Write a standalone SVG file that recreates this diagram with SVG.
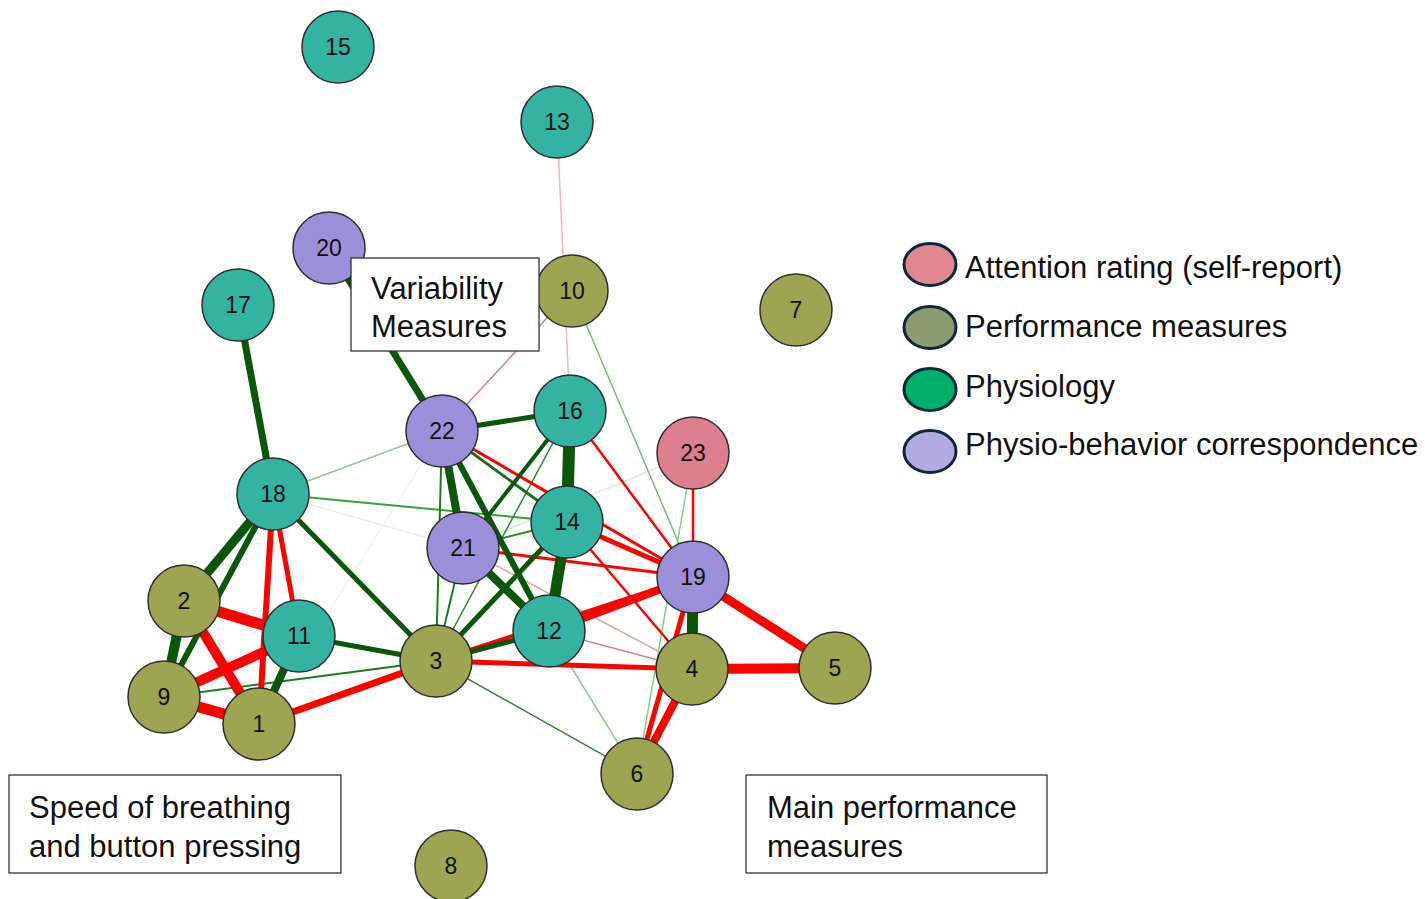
<svg xmlns="http://www.w3.org/2000/svg" width="1425" height="899" viewBox="0 0 1425 899">
<style>
.n circle{stroke:#2e2e2e;stroke-width:1.5}
.n text{font-family:"Liberation Sans",Arial,sans-serif;font-size:23px;fill:#111;text-anchor:middle}
.teal{fill:#34b2a2}.olive{fill:#9da552}.purple{fill:#9c8fda}.pink{fill:#db7f8e}
.e line{stroke-linecap:butt}
.dg{stroke:#0c560c}.mg{stroke:#2a8a2a}.lg{stroke:#86d086}.r{stroke:#ff0000}
.box rect{fill:#fff;stroke:#333;stroke-width:1.3}
.lbl{font-family:"Liberation Sans",Arial,sans-serif;font-size:31px;fill:#111}
.leg ellipse{stroke:#10263a;stroke-width:3}
</style>
<rect width="1425" height="899" fill="#fff"/>
<g id="connectors" class="e">
<line x1="557" y1="122" x2="570" y2="411" stroke="#f4b8b8" stroke-width="1.5"/>
<line x1="259" y1="724" x2="442" y2="431" stroke="#f6e4ea" stroke-width="1"/>
<line x1="273" y1="494" x2="463" y2="548" stroke="#e2f2e2" stroke-width="1.5"/>
<line x1="463" y1="548" x2="693" y2="453" stroke="#d3eed3" stroke-width="1.5"/>
<line x1="549" y1="631" x2="637" y2="774" class="lg" stroke-width="1.5"/>
<line x1="693" y1="453" x2="637" y2="774" class="lg" stroke-width="1.5"/>
<line x1="572" y1="291" x2="693" y2="577" stroke="#6cc46c" stroke-width="1.5"/>
<line x1="273" y1="494" x2="442" y2="431" class="lg" stroke-width="1.5"/>
<line x1="442" y1="431" x2="572" y2="291" stroke="#e07878" stroke-width="1.5"/>
<line x1="549" y1="631" x2="692" y2="669" stroke="#d08888" stroke-width="1.5"/>
<line x1="463" y1="548" x2="692" y2="669" stroke="#e2a8a8" stroke-width="1.5"/>
<line x1="436" y1="661" x2="637" y2="774" stroke="#3a8a3a" stroke-width="1.5"/>
<line x1="273" y1="494" x2="567" y2="522" stroke="#3aa03a" stroke-width="2"/>
<line x1="164" y1="697" x2="436" y2="661" stroke="#1e7a1e" stroke-width="2"/>
<line x1="436" y1="661" x2="442" y2="431" stroke="#1e7a1e" stroke-width="2"/>
<line x1="436" y1="661" x2="463" y2="548" stroke="#1e7a1e" stroke-width="2"/>
<line x1="436" y1="661" x2="570" y2="411" class="mg" stroke-width="1.5"/>
<line x1="463" y1="548" x2="567" y2="522" class="mg" stroke-width="2"/>
<line x1="442" y1="431" x2="567" y2="522" stroke="#1e6e1e" stroke-width="3"/>
<line x1="570" y1="411" x2="693" y2="577" class="r" stroke-width="2.5"/>
<line x1="567" y1="522" x2="692" y2="669" class="r" stroke-width="2.5"/>
<line x1="693" y1="453" x2="693" y2="577" class="r" stroke-width="2.5"/>
<line x1="442" y1="431" x2="693" y2="577" class="r" stroke-width="3"/>
<line x1="463" y1="548" x2="693" y2="577" class="r" stroke-width="3"/>
<line x1="436" y1="661" x2="693" y2="577" class="r" stroke-width="4"/>
<line x1="567" y1="522" x2="693" y2="577" class="r" stroke-width="5"/>
<line x1="436" y1="661" x2="692" y2="669" class="r" stroke-width="5"/>
<line x1="273" y1="494" x2="299" y2="636" class="r" stroke-width="5"/>
<line x1="273" y1="494" x2="259" y2="724" class="r" stroke-width="6"/>
<line x1="259" y1="724" x2="436" y2="661" class="r" stroke-width="7"/>
<line x1="693" y1="577" x2="637" y2="774" class="r" stroke-width="5"/>
<line x1="692" y1="669" x2="637" y2="774" class="r" stroke-width="8"/>
<line x1="549" y1="631" x2="693" y2="577" class="r" stroke-width="8"/>
<line x1="693" y1="577" x2="835" y2="668" class="r" stroke-width="9"/>
<line x1="692" y1="669" x2="835" y2="668" class="r" stroke-width="10"/>
<line x1="184" y1="601" x2="299" y2="636" class="r" stroke-width="11"/>
<line x1="184" y1="601" x2="259" y2="724" class="r" stroke-width="10"/>
<line x1="164" y1="697" x2="299" y2="636" class="r" stroke-width="10"/>
<line x1="164" y1="697" x2="259" y2="724" class="r" stroke-width="11"/>
<line x1="273" y1="494" x2="436" y2="661" class="dg" stroke-width="5"/>
<line x1="299" y1="636" x2="436" y2="661" class="dg" stroke-width="5"/>
<line x1="436" y1="661" x2="549" y2="631" class="dg" stroke-width="5"/>
<line x1="436" y1="661" x2="567" y2="522" class="dg" stroke-width="5"/>
<line x1="570" y1="411" x2="463" y2="548" class="dg" stroke-width="4"/>
<line x1="442" y1="431" x2="570" y2="411" class="dg" stroke-width="5"/>
<line x1="442" y1="431" x2="549" y2="631" class="dg" stroke-width="6"/>
<line x1="463" y1="548" x2="549" y2="631" class="dg" stroke-width="8"/>
<line x1="442" y1="431" x2="463" y2="548" class="dg" stroke-width="8"/>
<line x1="570" y1="411" x2="567" y2="522" class="dg" stroke-width="12"/>
<line x1="567" y1="522" x2="549" y2="631" class="dg" stroke-width="11"/>
<line x1="693" y1="577" x2="692" y2="669" class="dg" stroke-width="11"/>
<line x1="238" y1="305" x2="273" y2="494" class="dg" stroke-width="7"/>
<line x1="329" y1="248" x2="442" y2="431" class="dg" stroke-width="7"/>
<line x1="273" y1="494" x2="184" y2="601" class="dg" stroke-width="9"/>
<line x1="273" y1="494" x2="164" y2="697" class="dg" stroke-width="6"/>
<line x1="184" y1="601" x2="164" y2="697" class="dg" stroke-width="10"/>
<line x1="299" y1="636" x2="259" y2="724" class="dg" stroke-width="8"/>
</g>
<g id="node15" class="n"><circle cx="338" cy="47" r="36" class="teal"/><text x="338" y="55">15</text></g>
<g id="node13" class="n"><circle cx="557" cy="122" r="36" class="teal"/><text x="557" y="130">13</text></g>
<g id="node20" class="n"><circle cx="329" cy="248" r="36" class="purple"/><text x="329" y="256">20</text></g>
<g id="node10" class="n"><circle cx="572" cy="291" r="36" class="olive"/><text x="572" y="299">10</text></g>
<g id="node7" class="n"><circle cx="796" cy="310" r="36" class="olive"/><text x="796" y="318">7</text></g>
<g id="node17" class="n"><circle cx="238" cy="305" r="36" class="teal"/><text x="238" y="313">17</text></g>
<g id="node16" class="n"><circle cx="570" cy="411" r="36" class="teal"/><text x="570" y="419">16</text></g>
<g id="node22" class="n"><circle cx="442" cy="431" r="36" class="purple"/><text x="442" y="439">22</text></g>
<g id="node23" class="n"><circle cx="693" cy="453" r="36" class="pink"/><text x="693" y="461">23</text></g>
<g id="node18" class="n"><circle cx="273" cy="494" r="36" class="teal"/><text x="273" y="502">18</text></g>
<g id="node14" class="n"><circle cx="567" cy="522" r="36" class="teal"/><text x="567" y="530">14</text></g>
<g id="node21" class="n"><circle cx="463" cy="548" r="36" class="purple"/><text x="463" y="556">21</text></g>
<g id="node19" class="n"><circle cx="693" cy="577" r="36" class="purple"/><text x="693" y="585">19</text></g>
<g id="node2" class="n"><circle cx="184" cy="601" r="36" class="olive"/><text x="184" y="609">2</text></g>
<g id="node11" class="n"><circle cx="299" cy="636" r="36" class="teal"/><text x="299" y="644">11</text></g>
<g id="node12" class="n"><circle cx="549" cy="631" r="36" class="teal"/><text x="549" y="639">12</text></g>
<g id="node3" class="n"><circle cx="436" cy="661" r="36" class="olive"/><text x="436" y="669">3</text></g>
<g id="node4" class="n"><circle cx="692" cy="669" r="36" class="olive"/><text x="692" y="677">4</text></g>
<g id="node5" class="n"><circle cx="835" cy="668" r="36" class="olive"/><text x="835" y="676">5</text></g>
<g id="node9" class="n"><circle cx="164" cy="697" r="36" class="olive"/><text x="164" y="705">9</text></g>
<g id="node1" class="n"><circle cx="259" cy="724" r="36" class="olive"/><text x="259" y="732">1</text></g>
<g id="node6" class="n"><circle cx="637" cy="774" r="36" class="olive"/><text x="637" y="782">6</text></g>
<g id="node8" class="n"><circle cx="451" cy="866" r="36" class="olive"/><text x="451" y="874">8</text></g>
<g id="box-variability" class="box"><rect x="351" y="258" width="188" height="93"/><text class="lbl" x="371" y="299">Variability</text><text class="lbl" x="371" y="337">Measures</text></g>
<g id="box-speed" class="box"><rect x="9" y="775" width="332" height="98"/><text class="lbl" x="29" y="818">Speed of breathing</text><text class="lbl" x="29" y="857">and button pressing</text></g>
<g id="box-main" class="box"><rect x="746" y="775" width="301" height="98"/><text class="lbl" x="767" y="818">Main performance</text><text class="lbl" x="767" y="857">measures</text></g>
<g id="legend" class="leg">
<ellipse cx="930" cy="264.5" rx="26" ry="21" fill="#e0878f"/><text class="lbl" x="965" y="278">Attention rating (self-report)</text>
<ellipse cx="930" cy="327.5" rx="26" ry="21" fill="#8a9b6e"/><text class="lbl" x="965" y="337">Performance measures</text>
<ellipse cx="930" cy="389.5" rx="26" ry="21" fill="#00af6a"/><text class="lbl" x="965" y="397">Physiology</text>
<ellipse cx="930" cy="451.5" rx="26" ry="21" fill="#b4aae2"/><text class="lbl" x="965" y="455">Physio-behavior correspondence</text>
</g>
</svg>
